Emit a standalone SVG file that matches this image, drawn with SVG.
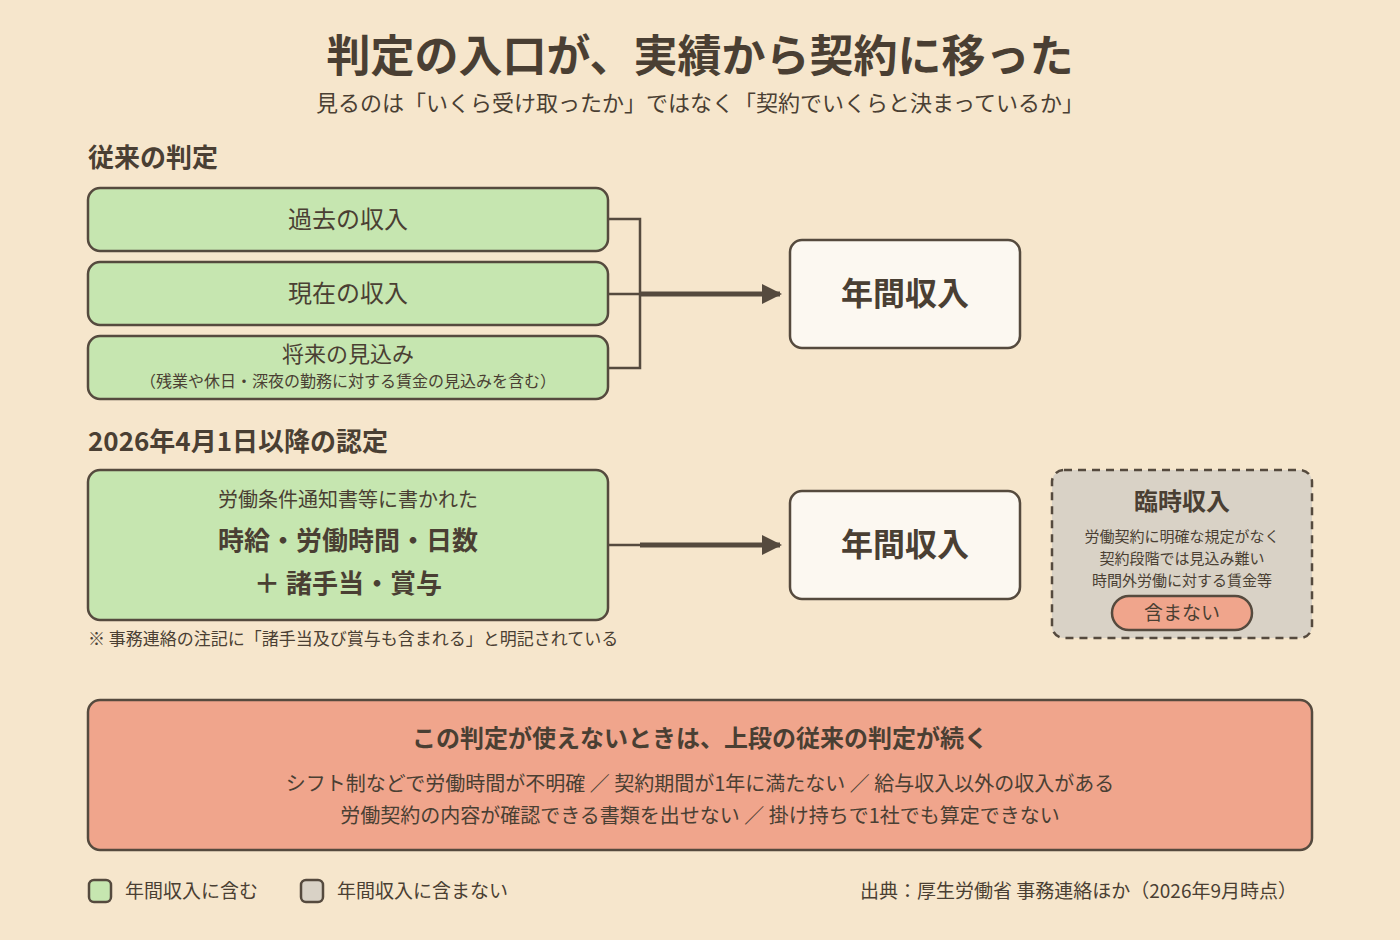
<svg xmlns="http://www.w3.org/2000/svg" width="1400" height="940" viewBox="0 0 1400 940">
<defs>
<style>
text{font-family:"Noto Sans CJK JP","Noto Sans",sans-serif;fill:#4a3f33;text-anchor:middle}
.g{fill:#c6e6b0;stroke:#554a3e;stroke-width:2.5}
.w{fill:#fcf8f1;stroke:#554a3e;stroke-width:2.5}
.ln{fill:none;stroke:#554a3e;stroke-width:2.5}
.ar{stroke:#554a3e;stroke-width:5;fill:none}
.b{font-weight:bold}
</style>
<marker id="ah" viewBox="0 0 10 10" refX="9" refY="5" markerWidth="4" markerHeight="6" markerUnits="strokeWidth" orient="auto"><path d="M0,0L10,5L0,10z" fill="#554a3e"/></marker>
</defs>
<rect width="1400" height="940" fill="#f6e6cc"/>
<text x="700" y="72" font-size="44" class="b">判定の入口が、実績から契約に移った</text>
<text x="700" y="111" font-size="22" fill="#5a5044">見るのは「いくら受け取ったか」ではなく「契約でいくらと決まっているか」</text>
<text x="88" y="167" font-size="26" class="b" style="text-anchor:start">従来の判定</text>
<g id="n1"><rect class="g" x="88" y="188" width="520" height="63" rx="12"/><text x="348" y="228" font-size="24">過去の収入</text></g>
<g id="n2"><rect class="g" x="88" y="262" width="520" height="63" rx="12"/><text x="348" y="302" font-size="24">現在の収入</text></g>
<g id="n3"><rect class="g" x="88" y="336" width="520" height="63" rx="12"/><text x="348" y="362" font-size="22">将来の見込み</text><text x="348" y="387" font-size="16">（残業や休日・深夜の勤務に対する賃金の見込みを含む）</text></g>
<g id="n4"><rect class="w" x="790" y="240" width="230" height="108" rx="12"/><text x="905" y="305" font-size="32" class="b">年間収入</text></g>
<text x="88" y="451" font-size="26" class="b" style="text-anchor:start">2026年4月1日以降の認定</text>
<g id="n5"><rect class="g" x="88" y="470" width="520" height="150" rx="12"/><text x="348" y="507" font-size="20">労働条件通知書等に書かれた</text><text x="348" y="550" font-size="26" class="b">時給・労働時間・日数</text><text x="348" y="593" font-size="26" class="b">＋ 諸手当・賞与</text></g>
<text x="88" y="645" font-size="17" fill="#5a5044" style="text-anchor:start">※ 事務連絡の注記に「諸手当及び賞与も含まれる」と明記されている</text>
<g id="n6"><rect class="w" x="790" y="491" width="230" height="108" rx="12"/><text x="905" y="556" font-size="32" class="b">年間収入</text></g>
<g id="n7"><rect x="1052" y="470" width="260" height="168" rx="12" fill="#d9d2c6" stroke="#554a3e" stroke-width="2.5" stroke-dasharray="8 6"/><text x="1182" y="510" font-size="24" class="b">臨時収入</text><text x="1182" y="542" font-size="15" fill="#5a5044">労働契約に明確な規定がなく</text><text x="1182" y="564" font-size="15" fill="#5a5044">契約段階では見込み難い</text><text x="1182" y="586" font-size="15" fill="#5a5044">時間外労働に対する賃金等</text><rect x="1112" y="596" width="140" height="34" rx="17" fill="#f0a58c" stroke="#554a3e" stroke-width="2.5"/><text x="1182" y="620" font-size="19">含まない</text></g>
<g id="connectors">
<path class="ln" d="M608 219H640V368H608M608 294H640"/>
<path class="ar" d="M640 294H780" marker-end="url(#ah)"/>
<path class="ln" d="M608 545H640"/>
<path class="ar" d="M640 545H780" marker-end="url(#ah)"/>
</g>
<g id="n8"><rect x="88" y="700" width="1224" height="150" rx="12" fill="#f0a58c" stroke="#554a3e" stroke-width="2.5"/><text x="700" y="747" font-size="24" class="b">この判定が使えないときは、上段の従来の判定が続く</text><text x="700" y="791" font-size="20" fill="#5a5044">シフト制などで労働時間が不明確 ／ 契約期間が1年に満たない ／ 給与収入以外の収入がある</text><text x="700" y="823" font-size="20" fill="#5a5044">労働契約の内容が確認できる書類を出せない ／ 掛け持ちで1社でも算定できない</text></g>
<g id="legend"><rect x="89" y="880" width="22" height="22" rx="5" fill="#c6e6b0" stroke="#554a3e" stroke-width="2.5"/><text x="125" y="898" font-size="19" fill="#5a5044" style="text-anchor:start">年間収入に含む</text><rect x="301" y="880" width="22" height="22" rx="5" fill="#d9d2c6" stroke="#554a3e" stroke-width="2.5"/><text x="337" y="898" font-size="19" fill="#5a5044" style="text-anchor:start">年間収入に含まない</text></g>
<text x="1297" y="898" font-size="19" fill="#5a5044" style="text-anchor:end">出典：厚生労働省 事務連絡ほか（2026年9月時点）</text>
</svg>
